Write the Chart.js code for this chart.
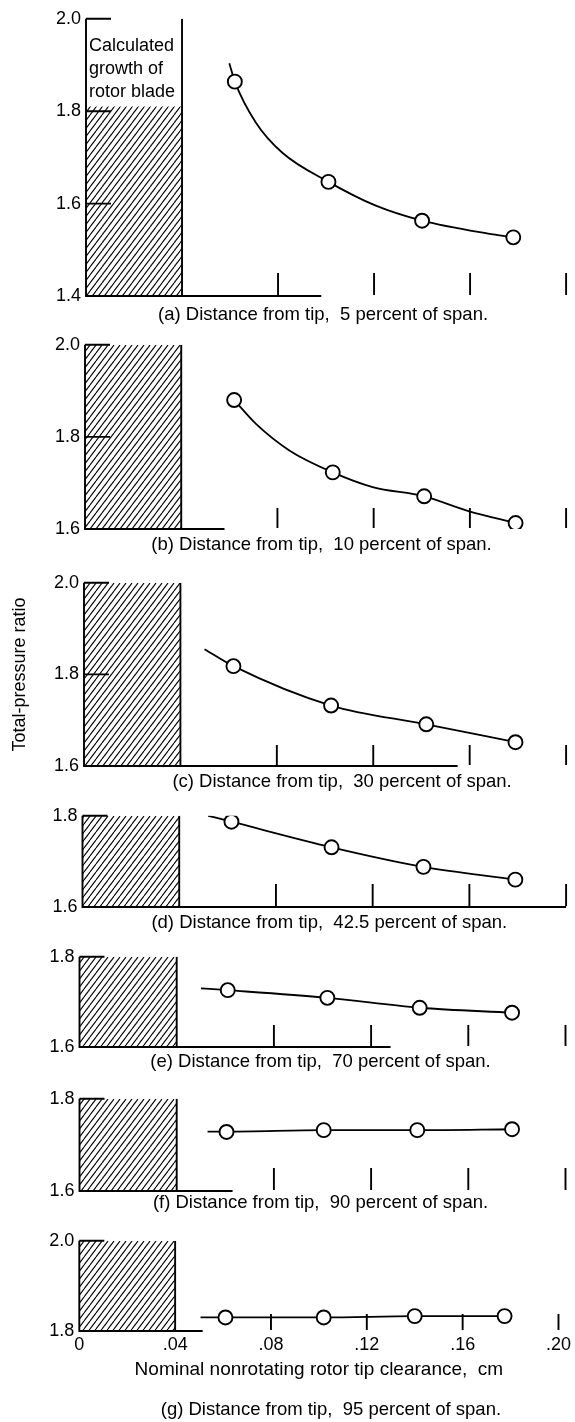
<!DOCTYPE html>
<html>
<head>
<meta charset="utf-8">
<script src="https://cdn.jsdelivr.net/npm/chart.js@4.4.1/dist/chart.umd.min.js"></script>
<style>
  body { margin: 0; background: #fff; }
  #page { position: relative; width: 575px; height: 1422px; }
  #page canvas { position: absolute; left: 0; }
</style>
</head>
<body>
<div id="page"></div>
<script>
// nominal nonrotating tip clearance (cm) vs total-pressure ratio, per spanwise station
const clearA = [0.062, 0.101, 0.140, 0.178];
const ratioA = [1.864, 1.647, 1.563, 1.527];
// faired curve through the data
const fairXA = [0.0597, 0.062, 0.0708, 0.0818, 0.101, 0.1205, 0.140, 0.1675, 0.178];
const fairYA = [1.904, 1.864, 1.775, 1.710, 1.647, 1.596, 1.563, 1.535, 1.527];

const clearB = [0.062, 0.103, 0.141, 0.179];
const ratioB = [1.880, 1.723, 1.671, 1.613];
const fairXB = [0.062, 0.0713, 0.0851, 0.103, 0.1196, 0.141, 0.1594, 0.179];
const fairYB = [1.880, 1.827, 1.770, 1.723, 1.691, 1.671, 1.639, 1.613];

const clearC = [0.062, 0.1025, 0.142, 0.179];
const ratioC = [1.818, 1.732, 1.691, 1.652];
const fairXC = [0.050, 0.062, 0.1025, 0.142, 0.179];
const fairYC = [1.855, 1.818, 1.732, 1.691, 1.652];

const clearD = [0.0616, 0.103, 0.141, 0.179];
const ratioD = [1.787, 1.731, 1.688, 1.660];
const fairXD = [0.052, 0.0616, 0.103, 0.141, 0.179];
const fairYD = [1.800, 1.787, 1.731, 1.688, 1.660];

const clearE = [0.061, 0.102, 0.140, 0.178];
const ratioE = [1.726, 1.709, 1.687, 1.676];
const fairXE = [0.050, 0.061, 0.102, 0.140, 0.178];
const fairYE = [1.730, 1.726, 1.709, 1.687, 1.676];

const clearF = [0.0605, 0.1005, 0.139, 0.178];
const ratioF = [1.728, 1.732, 1.732, 1.734];
const fairXF = [0.0527, 0.0605, 0.1005, 0.139, 0.178];
const fairYF = [1.729, 1.729, 1.732, 1.732, 1.734];

const clearG = [0.061, 0.102, 0.140, 0.1775];
const ratioG = [1.830, 1.830, 1.833, 1.833];
const fairXG = [0.0506, 0.061, 0.102, 0.140, 0.1775];
const fairYG = [1.830, 1.830, 1.830, 1.833, 1.833];

// axis ticks
const clearTicks = [0, 0.04, 0.08, 0.12, 0.16, 0.20];
const ticksA = [1.4, 1.6, 1.8, 2.0];
const ticksB = [1.6, 1.8, 2.0];
const ticksC = [1.6, 1.8, 2.0];
const ticksD = [1.6, 1.8];
const ticksE = [1.6, 1.8];
const ticksF = [1.6, 1.8];
const ticksG = [1.8, 2.0];

// calculated growth of rotor blade, cm, and the ratio the hatching reaches in (a)
const bladeGrowth = 0.04;
const hatchTopA = 1.81;

const captions = [
  '(a) Distance from tip,  5 percent of span.',
  '(b) Distance from tip,  10 percent of span.',
  '(c) Distance from tip,  30 percent of span.',
  '(d) Distance from tip,  42.5 percent of span.',
  '(e) Distance from tip,  70 percent of span.',
  '(f) Distance from tip,  90 percent of span.',
  '(g) Distance from tip,  95 percent of span.'
];
const noteLines = ['Calculated', 'growth of', 'rotor blade'];

const FONT = "'Liberation Sans', Arial, sans-serif";
const PAD_TOP = 14;
const W = 575;

// pixel frame of each panel's plot area, caption placement, bottom axis extent
const frames = [
  { top: 17,   bottom: 296,  left: 86,   right: 568.5, capGap: 19, capShift: -3,  axisEnd: 0.098,  tickLen: 23 },
  { top: 343,  bottom: 529,  left: 85,   right: 567.5, capGap: 16, capShift: -4,  axisEnd: 0.058,  tickLen: 21 },
  { top: 581,  bottom: 766,  left: 84,   right: 566.5, capGap: 16, capShift: 17,  axisEnd: 0.155,  tickLen: 21 },
  { top: 814,  bottom: 907,  left: 82.5, right: 566.5, capGap: 16, capShift: 5,   axisEnd: 0.200,  tickLen: 23 },
  { top: 955,  bottom: 1047, left: 79.5, right: 565.5, capGap: 15, capShift: -2,  axisEnd: 0.128,  tickLen: 22 },
  { top: 1097, bottom: 1191, left: 79.5, right: 565.5, capGap: 12, capShift: -2,  axisEnd: 0.063,  tickLen: 23 },
  { top: 1239, bottom: 1331, left: 79.3, right: 562.5, capGap: 79, capShift: 12,  axisEnd: 0.0515, tickLen: 17 }
];

const stations = [
  { clear: clearA, ratio: ratioA, fx: fairXA, fy: fairYA, ticks: ticksA, hatchTop: hatchTopA, note: true },
  { clear: clearB, ratio: ratioB, fx: fairXB, fy: fairYB, ticks: ticksB },
  { clear: clearC, ratio: ratioC, fx: fairXC, fy: fairYC, ticks: ticksC, yTitle: true },
  { clear: clearD, ratio: ratioD, fx: fairXD, fy: fairYD, ticks: ticksD },
  { clear: clearE, ratio: ratioE, fx: fairXE, fy: fairYE, ticks: ticksE },
  { clear: clearF, ratio: ratioF, fx: fairXF, fy: fairYF, ticks: ticksF },
  { clear: clearG, ratio: ratioG, fx: fairXG, fy: fairYG, ticks: ticksG, last: true }
];

Chart.defaults.font.family = FONT;
Chart.defaults.color = '#000';

function makeHatch() {
  const w = 6, h = 8;
  const c = document.createElement('canvas');
  c.width = w; c.height = h;
  const g = c.getContext('2d');
  g.strokeStyle = '#000';
  g.lineWidth = 1.1;
  for (const dx of [-w, 0, w]) {
    g.beginPath();
    g.moveTo(dx, h);
    g.lineTo(dx + w, 0);
    g.stroke();
  }
  return g.createPattern(c, 'repeat');
}
const hatch = makeHatch();

// axis lines, inward tick marks, box note and panel caption
const frameLines = {
  id: 'frameLines',
  beforeDatasetsDraw(chart, args, opts) {
    const { ctx, scales: { x, y } } = chart;
    const x0 = x.getPixelForValue(0);
    const yTop = y.getPixelForValue(y.max);
    const yBot = y.getPixelForValue(y.min);
    ctx.save();
    ctx.strokeStyle = '#000';
    ctx.lineWidth = 1.9;
    ctx.beginPath();
    ctx.moveTo(x0, yTop);
    ctx.lineTo(x0, yBot);
    ctx.lineTo(x.getPixelForValue(opts.axisEnd), yBot);
    y.ticks.forEach(t => {
      if (t.value > y.min + 1e-9) {
        const py = y.getPixelForValue(t.value);
        ctx.moveTo(x0, py);
        ctx.lineTo(x0 + 25, py);
      }
    });
    x.ticks.forEach(t => {
      if (t.value > bladeGrowth + 1e-9) {
        const px = x.getPixelForValue(t.value);
        ctx.moveTo(px, yBot - 1);
        ctx.lineTo(px, yBot - opts.tickLen);
      }
    });
    ctx.stroke();
    ctx.restore();
  },
  afterDatasetsDraw(chart, args, opts) {
    const { ctx, chartArea, scales: { x, y } } = chart;
    ctx.save();
    ctx.fillStyle = '#000';
    ctx.textBaseline = 'middle';
    if (opts.note) {
      const px = x.getPixelForValue(0) + 3;
      const py = y.getPixelForValue(y.max);
      ctx.font = '18px ' + FONT;
      ctx.textAlign = 'left';
      noteLines.forEach((line, i) => ctx.fillText(line, px, py + 27 + i * 23));
    }
    ctx.font = '18.5px ' + FONT;
    ctx.textAlign = 'center';
    ctx.fillText(opts.caption, (chartArea.left + chartArea.right) / 2 + opts.capShift,
      chartArea.bottom + opts.capGap);
    ctx.restore();
  }
};

const page = document.getElementById('page');

stations.forEach((st, i) => {
  const f = frames[i];
  const yMin = st.ticks[0];
  const yMax = st.ticks[st.ticks.length - 1];
  const xHeight = st.last ? 50 : 0;
  const padBottom = st.last ? 40 : f.capGap + 14;

  const canvas = document.createElement('canvas');
  canvas.width = W;
  canvas.height = PAD_TOP + (f.bottom - f.top) + xHeight + padBottom;
  canvas.style.top = (f.top - PAD_TOP) + 'px';
  page.appendChild(canvas);

  const points = st.clear.map((c, k) => ({ x: c, y: st.ratio[k] }));
  const fairing = st.fx.map((c, k) => ({ x: c, y: st.fy[k] }));
  const hatchTop = st.hatchTop || yMax;

  const xScale = {
    type: 'linear',
    min: 0,
    max: 0.2,
    afterBuildTicks: s => { s.ticks = clearTicks.map(v => ({ value: v })); },
    afterFit: s => { s.height = xHeight; },
    grid: { display: false, drawTicks: false },
    border: { display: false },
    ticks: {
      display: !!st.last,
      padding: 4,
      font: { size: 18, lineHeight: '20px' },
      callback: v => (v === 0 ? '0' : v.toFixed(2).replace(/^0/, ''))
    },
    title: {
      display: !!st.last,
      text: 'Nominal nonrotating rotor tip clearance,  cm',
      font: { size: 19, lineHeight: '22px' },
      padding: { top: 4, bottom: 0 }
    }
  };

  const yScale = {
    type: 'linear',
    min: yMin,
    max: yMax,
    afterBuildTicks: s => { s.ticks = st.ticks.map(v => ({ value: v })); },
    afterFit: s => { s.width = f.left; },
    grid: { display: false, drawTicks: false },
    border: { display: false },
    ticks: { padding: 5, font: { size: 18 }, callback: v => v.toFixed(1) },
    title: {
      display: !!st.yTitle,
      text: 'Total-pressure ratio',
      font: { size: 18 },
      padding: { top: 9, bottom: 0 }
    }
  };

  new Chart(canvas, {
    type: 'scatter',
    data: {
      datasets: [
        {
          data: points,
          showLine: false,
          pointRadius: 7,
          pointBackgroundColor: '#fff',
          pointBorderColor: '#000',
          pointBorderWidth: 1.9,
          order: 0
        },
        {
          data: fairing,
          showLine: true,
          pointRadius: 0,
          borderColor: '#000',
          borderWidth: 1.8,
          cubicInterpolationMode: 'monotone',
          order: 1
        },
        {
          data: [{ x: bladeGrowth, y: yMin }, { x: bladeGrowth, y: yMax }],
          showLine: true,
          pointRadius: 0,
          borderColor: '#000',
          borderWidth: 1.9,
          order: 2
        },
        {
          data: [{ x: 0, y: hatchTop }, { x: bladeGrowth, y: hatchTop }],
          showLine: true,
          pointRadius: 0,
          borderColor: 'rgba(0,0,0,0)',
          borderWidth: 1,
          fill: 'start',
          backgroundColor: hatch,
          order: 3
        }
      ]
    },
    options: {
      responsive: false,
      animation: false,
      devicePixelRatio: 1,
      events: [],
      layout: { padding: { left: 0, right: W - f.right, top: PAD_TOP, bottom: padBottom } },
      scales: { x: xScale, y: yScale },
      plugins: {
        legend: { display: false },
        tooltip: { enabled: false },
        frameLines: {
          axisEnd: f.axisEnd,
          tickLen: f.tickLen,
          note: !!st.note,
          caption: captions[i],
          capGap: f.capGap,
          capShift: f.capShift
        }
      }
    },
    plugins: [frameLines]
  });
});
</script>
</body>
</html>
